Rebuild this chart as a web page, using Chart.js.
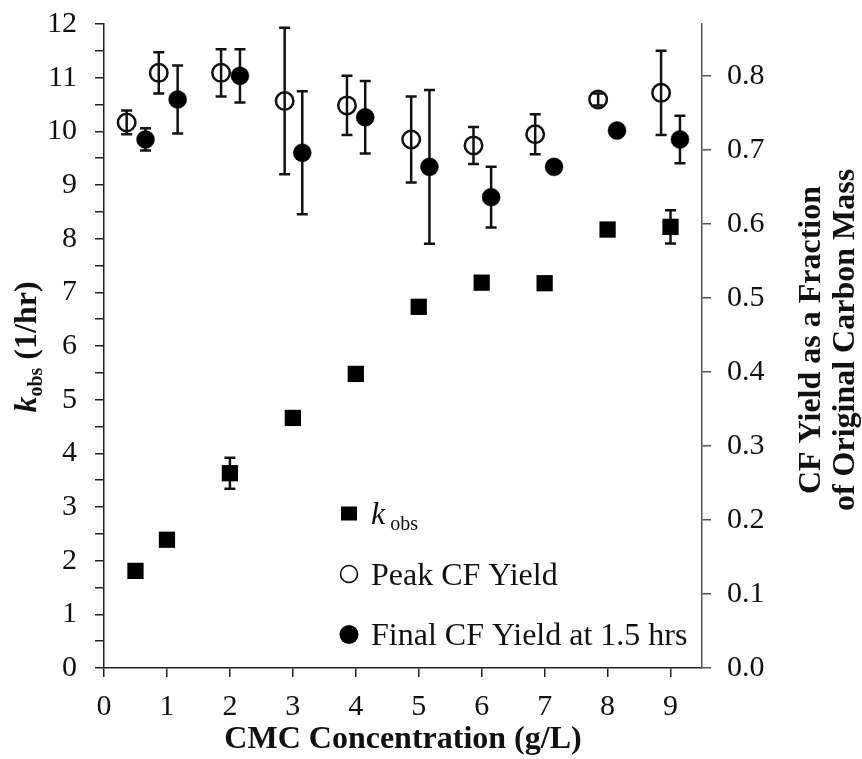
<!DOCTYPE html>
<html>
<head>
<meta charset="utf-8">
<script src="https://cdn.jsdelivr.net/npm/chart.js@4.4.1/dist/chart.umd.min.js"></script>
<style>
  html, body { margin: 0; padding: 0; background: #fff; }
  #wrap { width: 862px; height: 759px; position: relative; }
</style>
</head>
<body>
<div id="wrap"><canvas id="chart"></canvas></div>
<script>
// データ (CMC 濃度ごとの値)
const concentration = [0.5, 1, 2, 3, 4, 5, 6, 7, 8, 9];
const kobs = [1.81, 2.39, 3.63, 4.66, 5.48, 6.73, 7.18, 7.17, 8.17, 8.22];
const kobsErr = [0, 0, 0.29, 0.1, 0, 0, 0.1, 0, 0, 0.31];

const peakX = [0.36, 0.87, 1.86, 2.87, 3.86, 4.88, 5.87, 6.85, 7.85, 8.85];
const peakYield = [0.737, 0.804, 0.804, 0.766, 0.760, 0.714, 0.706, 0.721, 0.768, 0.777];
const peakErr = [0.016, 0.028, 0.032, 0.099, 0.040, 0.058, 0.025, 0.027, 0.008, 0.057];

const finalX = [0.66, 1.17, 2.16, 3.15, 4.15, 5.17, 6.15, 7.15, 8.15, 9.15];
const finalYield = [0.714, 0.768, 0.800, 0.696, 0.744, 0.677, 0.636, 0.677, 0.726, 0.714];
const finalErr = [0.015, 0.046, 0.036, 0.083, 0.049, 0.104, 0.041, 0, 0, 0.032];

// 目盛りラベル
const xTickLabels = ['0', '1', '2', '3', '4', '5', '6', '7', '8', '9'];
const leftTickLabels = ['0', '1', '2', '3', '4', '5', '6', '7', '8', '9', '10', '11', '12'];
const rightTickLabels = ['0.0', '0.1', '0.2', '0.3', '0.4', '0.5', '0.6', '0.7', '0.8'];

const serif = "'Liberation Serif', 'Times New Roman', serif";
Chart.defaults.font.family = serif;
Chart.defaults.color = '#111';

function toPoints(xs, ys) {
    return xs.map((x, i) => ({ x: x, y: ys[i] }));
}

// 軸の余白をなくしてプロット領域を固定
function fixBox(w, h) {
    return s => {
        if (w) s.width = w;
        if (h) s.height = h;
        s.paddingTop = 0;
        s.paddingBottom = 0;
        s.paddingLeft = 0;
        s.paddingRight = 0;
    };
}

// エラーバー描画 (マーカーの下に描く)
const errorBars = {
    id: 'errorBars',
    beforeDatasetsDraw(chart) {
        const ctx = chart.ctx;
        const xs = chart.scales.x;
        chart.data.datasets.forEach(ds => {
            const ys = chart.scales[ds.yAxisID];
            ds.data.forEach((p, j) => {
                const e = ds.errors[j];
                if (!e) return;
                const px = xs.getPixelForValue(p.x);
                const top = ys.getPixelForValue(p.y + e);
                const bot = ys.getPixelForValue(p.y - e);
                ctx.save();
                ctx.strokeStyle = '#111';
                ctx.lineWidth = 2.5;
                ctx.beginPath();
                ctx.moveTo(px, top); ctx.lineTo(px, bot);
                ctx.moveTo(px - 5.5, top); ctx.lineTo(px + 5.5, top);
                ctx.moveTo(px - 5.5, bot); ctx.lineTo(px + 5.5, bot);
                ctx.stroke();
                ctx.restore();
            });
        });
    }
};

// 軸タイトルと凡例
const labelsPlugin = {
    id: 'labelsPlugin',
    afterDraw(chart) {
        const ctx = chart.ctx;
        const area = chart.chartArea;
        const midY = (area.top + area.bottom) / 2;
        ctx.save();
        ctx.fillStyle = '#111';
        ctx.textBaseline = 'alphabetic';

        // x 軸タイトル
        ctx.font = `bold 32px ${serif}`;
        ctx.textAlign = 'center';
        ctx.fillText('CMC Concentration (g/L)', (area.left + area.right) / 2, 748);

        // 左軸タイトル: k_obs (1/hr)
        ctx.save();
        ctx.translate(36, 347);
        ctx.rotate(-Math.PI / 2);
        ctx.textAlign = 'left';
        const fK = `bold italic 32px ${serif}`;
        const fSub = `bold 20px ${serif}`;
        const fMain = `bold 32px ${serif}`;
        ctx.font = fK; const wK = ctx.measureText('k').width;
        ctx.font = fSub; const wSub = ctx.measureText('obs').width;
        ctx.font = fMain; const wMain = ctx.measureText(' (1/hr)').width;
        let x0 = -(wK + wSub + wMain) / 2;
        ctx.font = fK; ctx.fillText('k', x0, 0);
        ctx.font = fSub; ctx.fillText('obs', x0 + wK, 6);
        ctx.font = fMain; ctx.fillText(' (1/hr)', x0 + wK + wSub, 0);
        ctx.restore();

        // 右軸タイトル (2 行)
        ctx.save();
        ctx.translate(820, 340);
        ctx.rotate(-Math.PI / 2);
        ctx.textAlign = 'center';
        ctx.font = `bold 32px ${serif}`;
        ctx.fillText('CF Yield as a Fraction', 0, 0);
        ctx.fillText('of Original Carbon Mass', 0, 34);
        ctx.restore();

        // 凡例
        const mx = 349;
        const rows = [513.5, 574, 634.5];
        ctx.fillStyle = '#000';
        ctx.fillRect(mx - 8, rows[0] - 7, 16, 14);
        ctx.beginPath();
        ctx.arc(mx, rows[1], 8.5, 0, Math.PI * 2);
        ctx.lineWidth = 1.5;
        ctx.strokeStyle = '#000';
        ctx.stroke();
        ctx.beginPath();
        ctx.arc(mx, rows[2], 9.5, 0, Math.PI * 2);
        ctx.fill();

        ctx.fillStyle = '#111';
        ctx.textAlign = 'left';
        ctx.font = `italic 32px ${serif}`;
        ctx.fillText('k', 371, rows[0] + 10.5);
        const kw = ctx.measureText('k').width;
        ctx.font = `20px ${serif}`;
        ctx.fillText(' obs', 371 + kw, rows[0] + 16.5);
        ctx.font = `32px ${serif}`;
        ctx.fillText('Peak CF Yield', 371, rows[1] + 11);
        ctx.fillText('Final CF Yield at 1.5 hrs', 371, rows[2] + 10);
        ctx.restore();
    }
};

const tickFont = { size: 30, family: serif };

new Chart(document.getElementById('chart'), {
    type: 'scatter',
    data: {
        datasets: [
            {
                label: 'kobs',
                data: toPoints(concentration, kobs),
                errors: kobsErr,
                yAxisID: 'y',
                pointStyle: 'rect',
                pointRadius: 11.5,
                pointBorderWidth: 0,
                backgroundColor: '#000',
                borderColor: '#000'
            },
            {
                label: 'Peak CF Yield',
                data: toPoints(peakX, peakYield),
                errors: peakErr,
                yAxisID: 'y2',
                pointStyle: 'circle',
                pointRadius: 8.75,
                pointBorderWidth: 2.5,
                backgroundColor: 'rgba(0,0,0,0)',
                borderColor: '#111'
            },
            {
                label: 'Final CF Yield at 1.5 hrs',
                data: toPoints(finalX, finalYield),
                errors: finalErr,
                yAxisID: 'y2',
                pointStyle: 'circle',
                pointRadius: 9,
                pointBorderWidth: 0.5,
                backgroundColor: '#000',
                borderColor: '#000'
            }
        ]
    },
    options: {
        responsive: true,
        maintainAspectRatio: false,
        animation: false,
        events: [],
        layout: { padding: { top: 24, left: 0, right: 0, bottom: 0 } },
        plugins: {
            legend: { display: false },
            tooltip: { enabled: false }
        },
        scales: {
            x: {
                type: 'linear',
                min: 0,
                max: 9.5,
                border: { color: '#222', width: 1.5 },
                grid: { drawOnChartArea: false, tickLength: 9, color: '#222', lineWidth: 1.5 },
                ticks: {
                    stepSize: 1,
                    includeBounds: false,
                    autoSkip: false,
                    maxRotation: 0,
                    padding: 12,
                    font: tickFont,
                    callback: v => xTickLabels[v] ?? ''
                },
                afterFit: fixBox(0, 91)
            },
            y: {
                position: 'left',
                min: 0,
                max: 12,
                border: { color: '#222', width: 1.5 },
                grid: { drawOnChartArea: false, tickLength: 9, color: '#222', lineWidth: 1.5 },
                ticks: {
                    stepSize: 0.5,
                    autoSkip: false,
                    padding: 18,
                    font: tickFont,
                    callback: v => (Number.isInteger(v) ? leftTickLabels[v] : '')
                },
                afterFit: fixBox(104, 0)
            },
            y2: {
                position: 'right',
                min: 0,
                max: 0.87,
                border: { color: '#555', width: 1.5 },
                grid: { drawOnChartArea: false, tickLength: 9, color: '#555', lineWidth: 1.5 },
                ticks: {
                    stepSize: 0.1,
                    includeBounds: false,
                    autoSkip: false,
                    padding: 16,
                    font: tickFont,
                    callback: v => rightTickLabels[Math.round(v * 10)] ?? ''
                },
                afterFit: fixBox(160, 0)
            }
        }
    },
    plugins: [errorBars, labelsPlugin]
});
</script>
</body>
</html>
